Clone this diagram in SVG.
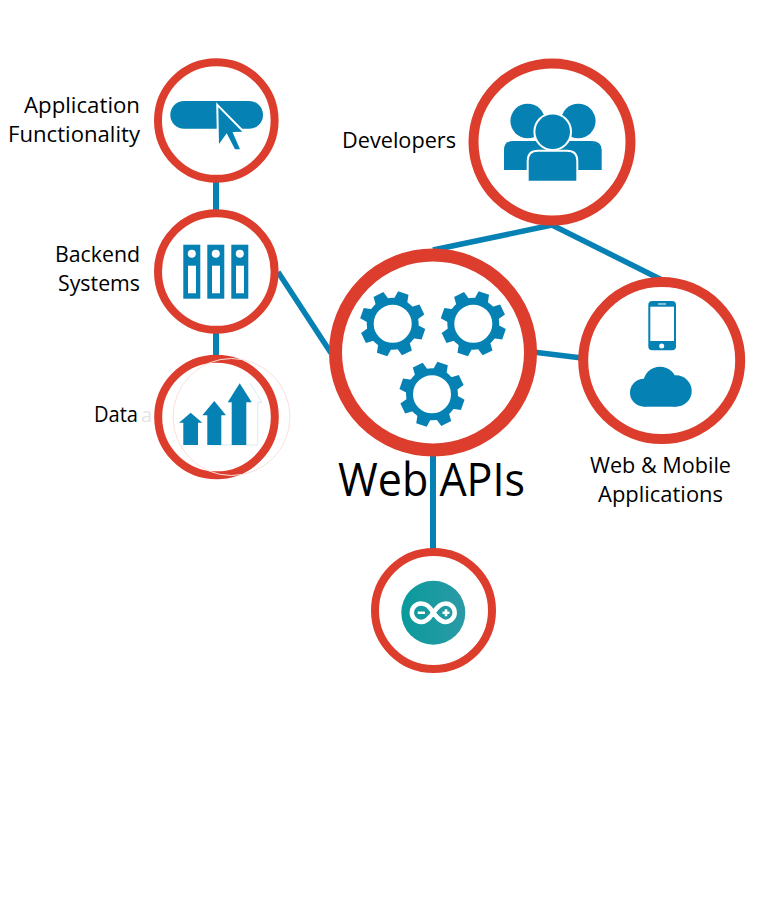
<svg xmlns="http://www.w3.org/2000/svg" width="768" height="900" viewBox="0 0 768 900">
<style>
.ring{fill:#fff;stroke:#dc3d2d}
.r8{stroke-width:8}.r10{stroke-width:10}.r13{stroke-width:13}
.b{fill:#0581b4}
.w{fill:#fff}
.cut{fill:#0581b4;stroke:#fff;stroke-width:4;paint-order:stroke}
.t{font-family:"Open Sans","Noto Sans","Liberation Sans",sans-serif;font-size:22px;fill:#000}
#connectors line{stroke:#0581b4;stroke-width:5.5;fill:none}
#connectors line.v{stroke-width:6}
</style>
<defs>
<g id="gear">
<circle r="22.5" fill="none" stroke="#0581b4" stroke-width="7"/>
<g class="b">
<path id="tooth" d="M-7-24L-5.5-32.5H5.5L7-24Z" transform="rotate(-26)"/>
<path d="M-7-24L-5.5-32.5H5.5L7-24Z" transform="rotate(19)"/>
<path d="M-7-24L-5.5-32.5H5.5L7-24Z" transform="rotate(64)"/>
<path d="M-7-24L-5.5-32.5H5.5L7-24Z" transform="rotate(109)"/>
<path d="M-7-24L-5.5-32.5H5.5L7-24Z" transform="rotate(154)"/>
<path d="M-7-24L-5.5-32.5H5.5L7-24Z" transform="rotate(199)"/>
<path d="M-7-24L-5.5-32.5H5.5L7-24Z" transform="rotate(244)"/>
<path d="M-7-24L-5.5-32.5H5.5L7-24Z" transform="rotate(289)"/>
</g>
</g>
<linearGradient id="teal" x1="0" x2="1" y1="0" y2="0"><stop offset="0" stop-color="#0a9a9c"/><stop offset="1" stop-color="#2b9aa6"/></linearGradient>
</defs>
<g id="connectors">
<line class="v" x1="216" y1="120" x2="216" y2="417"/>
<line x1="278" y1="272" x2="331" y2="353"/>
<line x1="552" y1="225" x2="433" y2="250"/>
<line x1="552" y1="225" x2="662" y2="280"/>
<line x1="533" y1="352" x2="582" y2="358"/>
<line class="v" x1="433" y1="450" x2="433" y2="555"/>
</g>
<g id="node-application">
<circle class="ring r8" cx="216.3" cy="120.5" r="58.3"/>
<rect class="b" x="170.3" y="101" width="92.7" height="27.7" rx="13.8"/>
<path class="cut" d="M218.3 107.3L242.3 131.7L232.5 132L240 149.3L235 149.3L226.7 133.3L219 144Z"/>
<text class="t" x="24" y="113" textLength="116" lengthAdjust="spacingAndGlyphs">Application</text>
<text class="t" x="8" y="142" textLength="132" lengthAdjust="spacingAndGlyphs">Functionality</text>
</g>
<g id="node-backend">
<circle class="ring r8" cx="216.3" cy="271.5" r="58.3"/>
<g class="b">
<rect x="183.3" y="244.7" width="17" height="54"/>
<rect x="207.3" y="244.7" width="17" height="54"/>
<rect x="231.3" y="244.7" width="17" height="54"/>
</g>
<g class="w">
<circle cx="191.8" cy="253.7" r="4"/><rect x="188" y="265.7" width="8" height="27.6"/>
<circle cx="215.8" cy="253.7" r="4"/><rect x="212" y="265.7" width="8" height="27.6"/>
<circle cx="239.8" cy="253.7" r="4"/><rect x="236" y="265.7" width="8" height="27.6"/>
</g>
<text class="t" x="55" y="262" textLength="85" lengthAdjust="spacingAndGlyphs">Backend</text>
<text class="t" x="58" y="291" textLength="82" lengthAdjust="spacingAndGlyphs">Systems</text>
</g>
<g id="node-data">
<circle class="ring r8" cx="216.5" cy="417" r="58.3"/>
<circle cx="231.5" cy="417" r="58.5" fill="none" stroke="#f9e0dc" stroke-width="1"/>
<path d="M250 383.3L262 402.3L257.7 402.3L257.7 445L210 445" fill="none" stroke="#dbeaf2" stroke-width="1"/>
<path class="b" d="M190.7 412.7L202.3 422.7L198 422.7L198 445L183.3 445L183.3 422.7L179 422.7Z"/>
<path class="b" d="M214.3 401L226 415.3L221.3 415.3L221.3 445L207.3 445L207.3 415.3L202.3 415.3Z"/>
<path class="b" d="M239.7 383.3L251.7 402.3L246.3 402.3L246.3 445L231.7 445L231.7 402.3L227.7 402.3Z"/>
<text class="t" x="141" y="422" style="fill:#e4e4e4;font-size:20px">a</text>
<text class="t" x="94" y="422" textLength="44" lengthAdjust="spacingAndGlyphs">Data</text>
</g>
<g id="node-webapis">
<circle class="ring r13" cx="433" cy="352.5" r="97.5"/>
<use href="#gear" x="392.7" y="323.7"/>
<use href="#gear" x="473.3" y="323.7"/>
<use href="#gear" x="432" y="394.3"/>
<text x="338" y="496" textLength="187" lengthAdjust="spacingAndGlyphs" style="font-family:'Open Sans','Noto Sans','Liberation Sans',sans-serif;font-size:45px;fill:#000">Web APIs</text>
</g>
<g id="node-developers">
<circle class="ring r10" cx="552" cy="142" r="78.5"/>
<circle class="b" cx="527.7" cy="121" r="17.3"/>
<circle class="b" cx="578.3" cy="121" r="17.3"/>
<path class="b" d="M504 170L504 150Q504 141 513 141L591 141Q601.7 141 601.7 150L601.7 170Z"/>
<circle class="cut" cx="552.7" cy="131.7" r="17.3"/>
<path class="cut" d="M528.7 180.7L528.7 161Q528.7 151.7 538 151.7L567 151.7Q576.3 151.7 576.3 161L576.3 180.7Z"/>
<text class="t" x="342" y="148" textLength="114" lengthAdjust="spacingAndGlyphs">Developers</text>
</g>
<g id="node-mobile">
<circle class="ring r10" cx="661.7" cy="360.5" r="78.5"/>
<rect class="b" x="648.3" y="301" width="27.7" height="49.3" rx="4"/>
<rect class="w" x="650.3" y="306.7" width="23.7" height="34.3"/>
<circle class="w" cx="661.7" cy="346" r="2.5"/>
<rect class="w" x="658" y="303.5" width="8" height="1"/>
<g class="b">
<circle cx="644" cy="392.7" r="14"/>
<circle cx="660" cy="383.5" r="16.8"/>
<circle cx="676" cy="391" r="15.7"/>
<rect x="644" y="385" width="32" height="21.7"/>
</g>
<text class="t" x="590" y="473" textLength="141" lengthAdjust="spacingAndGlyphs">Web &amp; Mobile</text>
<text class="t" x="598" y="502" textLength="125" lengthAdjust="spacingAndGlyphs">Applications</text>
</g>
<g id="node-arduino">
<circle class="ring r8" cx="433.5" cy="610.5" r="58.5"/>
<circle cx="433.3" cy="612.7" r="32" fill="url(#teal)"/>
<path d="M433.3 612.7C429 606 426 603.5 421 603.5A9.2 9.2 0 0 0 421 621.9C426 621.9 429 619 433.3 612.7C438 606 441 603.5 445.5 603.5A9.2 9.2 0 0 1 445.5 621.9C441 621.9 438 619 433.3 612.7Z" fill="none" stroke="#fff" stroke-width="4.5"/>
<path d="M417.7 612.7H425M442.5 612.7H449.5M446 609.2V616.2" fill="none" stroke="#fff" stroke-width="2.5"/>
</g>
</svg>
